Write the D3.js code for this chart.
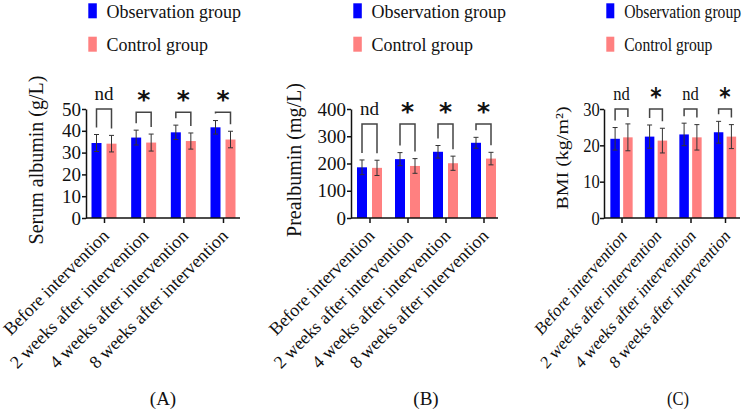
<!DOCTYPE html>
<html>
<head>
<meta charset="utf-8">
<script src="https://cdn.jsdelivr.net/npm/d3@7"></script>
<style>
  body { margin: 0; background: #fff; }
  svg { display: block; }
  text { font-family: "Liberation Serif", "Times New Roman", serif; fill: #111; }
</style>
</head>
<body>
<div id="chart"></div>
<script>
// data
const categories = ["Before intervention", "2 weeks after intervention", "4 weeks after intervention", "8 weeks after intervention"];
const seriesNames = ["Observation group", "Control group"];
const seriesColors = ["#0000ff", "#ff8080"];

const albuminObs = [34.4, 36.9, 39.3, 41.6];
const albuminObsSd = [3.9, 3.4, 3.3, 3.1];
const albuminCtrl = [34.1, 34.6, 35.3, 36.0];
const albuminCtrlSd = [3.8, 3.9, 3.7, 3.8];
const albuminMarks = ["nd", "*", "*", "*"];

const prealbObs = [186, 216, 243, 276];
const prealbObsSd = [27, 24, 23, 20];
const prealbCtrl = [184, 191, 201, 218];
const prealbCtrlSd = [28, 27, 26, 23];
const prealbMarks = ["nd", "*", "*", "*"];

const bmiObs = [21.8, 22.4, 23.0, 23.6];
const bmiObsSd = [3.1, 3.2, 3.1, 3.0];
const bmiCtrl = [22.2, 21.3, 22.2, 22.4];
const bmiCtrlSd = [3.7, 3.4, 3.5, 3.3];
const bmiMarks = ["nd", "*", "nd", "*"];

const width = 742, height = 412;
const yTop = 109, yBottom = 218;

// sx: the third panel of the figure is squeezed horizontally
const panels = [
  { letter: "(A)", title: "Serum albumin (g/L)", obs: albuminObs, obsSd: albuminObsSd, ctrl: albuminCtrl, ctrlSd: albuminCtrlSd,
    marks: albuminMarks, max: 50, step: 10, bracket: [50, 48.5, 48.5, 48.5], sx: 1,
    axisX: 86, axisEnd: 240, first: 104, last: 223, barW: 10, gap: 5, boxW: 8.5, titleX: 43, titleY: 160, letterX: 163 },
  { letter: "(B)", title: "Prealbumin (mg/L)", obs: prealbObs, obsSd: prealbObsSd, ctrl: prealbCtrl, ctrlSd: prealbCtrlSd,
    marks: prealbMarks, max: 400, step: 100, bracket: [345, 345, 345, 345], sx: 1,
    axisX: 351, axisEnd: 498, first: 369.5, last: 483.5, barW: 10, gap: 5, boxW: 8.5, titleX: 301, titleY: 160, letterX: 426 },
  { letter: "(C)", title: "BMI (kg/m²)", obs: bmiObs, obsSd: bmiObsSd, ctrl: bmiCtrl, ctrlSd: bmiCtrlSd,
    marks: bmiMarks, max: 30, step: 10, bracket: [30, 30, 30, 30], sx: 0.87,
    axisX: 604, axisEnd: 740, first: 621.5, last: 725, barW: 9.5, gap: 3.3, boxW: 8, titleX: 568, titleY: 158, letterX: 678 }
];

const svg = d3.select("#chart").append("svg")
  .attr("width", width)
  .attr("height", height);

function place(x, y, sx, extra) {
  return "translate(" + x + "," + y + ") scale(" + sx + ",1)" + (extra ? " " + extra : "");
}

panels.forEach(function (p) {
  const g = svg.append("g");

  const x = d3.scalePoint().domain(categories).range([p.first, p.last]);
  const y = d3.scaleLinear().domain([0, p.max]).range([yBottom, yTop]);

  // legend
  seriesNames.forEach(function (name, i) {
    g.append("rect")
      .attr("x", p.axisX + 2.3).attr("y", 3.3 + i * 33.4)
      .attr("width", p.boxW).attr("height", 15)
      .attr("fill", seriesColors[i]);
    g.append("text")
      .attr("transform", place(p.axisX + 18 + 2.5 * p.sx, 17.5 + i * 33.4, p.sx))
      .style("font-size", "18px")
      .text(name);
  });

  // bars
  const rows = categories.map(function (c, i) {
    return { cat: c, vals: [p.obs[i], p.ctrl[i]], sds: [p.obsSd[i], p.ctrlSd[i]], mark: p.marks[i], br: p.bracket[i] };
  });
  const off = function (k) { return k === 0 ? -(p.gap / 2 + p.barW) : p.gap / 2; };

  rows.forEach(function (r) {
    r.vals.forEach(function (v, k) {
      const bx = x(r.cat) + off(k);
      g.append("rect")
        .attr("x", bx).attr("y", y(v))
        .attr("width", p.barW).attr("height", y(0) - y(v))
        .attr("fill", seriesColors[k]);
      const cx = bx + p.barW / 2;
      const hi = y(v + r.sds[k]), lo = y(v - r.sds[k]);
      g.append("path")
        .attr("d", "M" + cx + "," + hi + "V" + lo +
          "M" + (cx - 2.5) + "," + hi + "H" + (cx + 2.5) +
          "M" + (cx - 2.5) + "," + lo + "H" + (cx + 2.5))
        .attr("stroke", "#333").attr("stroke-width", 1).attr("fill", "none");
    });

    // significance bracket
    const lx = x(r.cat) + off(0) + p.barW / 2;
    const rx = x(r.cat) + off(1) + p.barW / 2;
    const top = y(r.br);
    const lEnd = y(r.vals[0] + r.sds[0]) - 7;
    const rEnd = y(r.vals[1] + r.sds[1]) - 7;
    g.append("path")
      .attr("d", "M" + lx + "," + lEnd + "V" + top + "H" + rx + "V" + rEnd)
      .attr("stroke", "#444").attr("stroke-width", 1.5).attr("fill", "none");

    const mid = (lx + rx) / 2;
    if (r.mark === "nd") {
      g.append("text")
        .attr("transform", place(mid, top - 9, p.sx))
        .attr("text-anchor", "middle")
        .style("font-size", "19px")
        .text("nd");
    } else {
      g.append("text")
        .attr("transform", place(mid, top - 4, p.sx))
        .attr("text-anchor", "middle")
        .style("font-family", "DejaVu Sans")
        .style("font-weight", "bold")
        .style("font-size", "25px")
        .text(r.mark);
    }
  });

  // y axis
  const yAxis = d3.axisLeft(y)
    .tickValues(d3.range(0, p.max + p.step, p.step))
    .tickSize(4).tickSizeOuter(0).tickPadding(1);
  const ya = g.append("g").attr("transform", "translate(" + p.axisX + ",0)").call(yAxis);
  ya.select(".domain").attr("stroke", "#111").attr("stroke-width", 1.5);
  ya.selectAll(".tick line").attr("stroke", "#111").attr("stroke-width", 1.5);
  ya.selectAll(".tick text")
    .attr("transform", "scale(" + p.sx + ",1)")
    .style("font-family", "'Liberation Serif', 'Times New Roman', serif")
    .style("font-size", "19px").attr("fill", "#111");

  // x axis
  const xAxis = d3.axisBottom(x).tickSize(5).tickSizeOuter(0).tickFormat("");
  const xa = g.append("g").attr("transform", "translate(0," + yBottom + ")").call(xAxis);
  xa.select(".domain").remove();
  xa.selectAll(".tick line").attr("stroke", "#111").attr("stroke-width", 1.5);
  g.append("line")
    .attr("x1", p.axisX).attr("x2", p.axisEnd)
    .attr("y1", yBottom).attr("y2", yBottom)
    .attr("stroke", "#111").attr("stroke-width", 1.5);

  // slanted category labels
  categories.forEach(function (c) {
    g.append("text")
      .attr("transform", place(x(c) + 6, yBottom + 19, p.sx, "rotate(-45)"))
      .attr("text-anchor", "end")
      .style("font-size", "18px")
      .text(c);
  });

  // y title
  g.append("text")
    .attr("transform", place(p.titleX, p.titleY, p.sx, "rotate(-90)"))
    .attr("text-anchor", "middle")
    .style("font-size", "20px")
    .text(p.title);

  // panel letter
  g.append("text")
    .attr("transform", place(p.letterX, 405, p.sx))
    .attr("text-anchor", "middle")
    .style("font-size", "19px")
    .text(p.letter);
});
</script>
</body>
</html>
